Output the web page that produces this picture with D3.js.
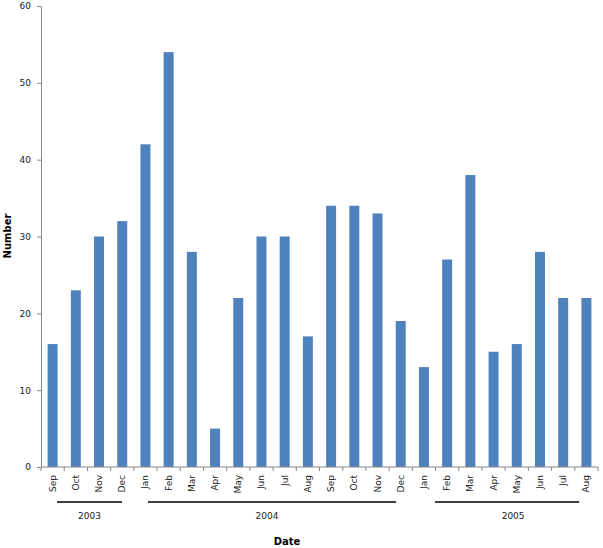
<!DOCTYPE html>
<html>
<head>
<meta charset="utf-8">
<script src="https://cdn.jsdelivr.net/npm/d3@7"></script>
<style>
  body { margin: 0; background: #fff; }
  text { font-family: "DejaVu Sans", sans-serif; }
</style>
</head>
<body>
<script>
// data
const months = ['Sep', 'Oct', 'Nov', 'Dec',
  'Jan', 'Feb', 'Mar', 'Apr', 'May', 'Jun', 'Jul', 'Aug', 'Sep', 'Oct', 'Nov', 'Dec',
  'Jan', 'Feb', 'Mar', 'Apr', 'May', 'Jun', 'Jul', 'Aug'];
const counts = [16, 23, 30, 32, 42, 54, 28, 5, 22, 30, 30, 17, 34, 34, 33, 19, 13, 27, 38, 15, 16, 28, 22, 22];
const years = ['2003', '2004', '2005'];
const yTicks = [0, 10, 20, 30, 40, 50, 60];

// where the year brackets sit, in band units (as drawn in the original)
const yearSpans = [[0.69, 3.49], [4.61, 15.3], [16.98, 23.19]];

const width = 603;
const height = 548;
const margin = {top: 6, right: 5, bottom: 81, left: 41};

const keys = months.map((m, i) => i);

const x = d3.scaleBand()
  .domain(keys)
  .range([margin.left, width - margin.right])
  .paddingInner(0.57)
  .paddingOuter(0.285);

const xi = d3.scaleLinear()
  .domain([0, months.length])
  .range([margin.left, width - margin.right]);

const y = d3.scaleLinear()
  .domain([0, 60])
  .range([height - margin.bottom, margin.top]);

const svg = d3.select('body').append('svg')
  .attr('width', width)
  .attr('height', height);

svg.append('g')
  .selectAll('rect')
  .data(counts)
  .join('rect')
    .attr('x', (d, i) => x(i))
    .attr('y', d => y(d))
    .attr('width', x.bandwidth())
    .attr('height', d => y(0) - y(d))
    .attr('fill', '#4f81bd');

// y axis
const yAxis = g => g
  .attr('transform', `translate(${margin.left},0)`)
  .call(d3.axisLeft(y).tickValues(yTicks).tickSize(4).tickPadding(6).tickSizeOuter(0))
  .call(g => g.select('.domain').attr('stroke', '#888'))
  .call(g => g.selectAll('.tick line').attr('stroke', '#888'))
  .call(g => g.selectAll('.tick text').attr('font-size', 9).attr('fill', '#222')
    .attr('font-family', '"DejaVu Sans", sans-serif'));

svg.append('g').call(yAxis);

// x axis: ticks at band edges, labels rotated
const xAxis = svg.append('g');
xAxis.append('line')
  .attr('x1', xi(0)).attr('x2', xi(months.length))
  .attr('y1', y(0)).attr('y2', y(0))
  .attr('stroke', '#888');

xAxis.selectAll('line.tk')
  .data(d3.range(months.length + 1))
  .join('line')
    .attr('class', 'tk')
    .attr('x1', d => xi(d)).attr('x2', d => xi(d))
    .attr('y1', y(0)).attr('y2', y(0) + 4)
    .attr('stroke', '#888');

xAxis.selectAll('text')
  .data(months)
  .join('text')
    .attr('transform', (d, i) => `translate(${x(i) + x.bandwidth() / 2 + 3},${y(0) + 8}) rotate(-90)`)
    .attr('text-anchor', 'end')
    .attr('font-size', 9)
    .attr('fill', '#222')
    .text(d => d);

// year brackets
const yr = svg.append('g');
yr.selectAll('line')
  .data(yearSpans)
  .join('line')
    .attr('x1', d => xi(d[0])).attr('x2', d => xi(d[1]))
    .attr('y1', 502).attr('y2', 502)
    .attr('stroke', '#000')
    .attr('stroke-width', 1.5);

yr.selectAll('text')
  .data(years)
  .join('text')
    .attr('x', (d, i) => (xi(yearSpans[i][0]) + xi(yearSpans[i][1])) / 2 + (i === 2 ? 6 : (i === 1 ? -5 : 0)))
    .attr('y', 519)
    .attr('text-anchor', 'middle')
    .attr('font-size', 9)
    .attr('fill', '#222')
    .text(d => d);

// axis titles
svg.append('text')
  .attr('x', 287)
  .attr('y', 545)
  .attr('text-anchor', 'middle')
  .attr('font-size', 10)
  .attr('font-weight', 'bold')
  .text('Date');

svg.append('text')
  .attr('transform', `translate(11,236) rotate(-90)`)
  .attr('text-anchor', 'middle')
  .attr('font-size', 10)
  .attr('font-weight', 'bold')
  .text('Number');
</script>
</body>
</html>
